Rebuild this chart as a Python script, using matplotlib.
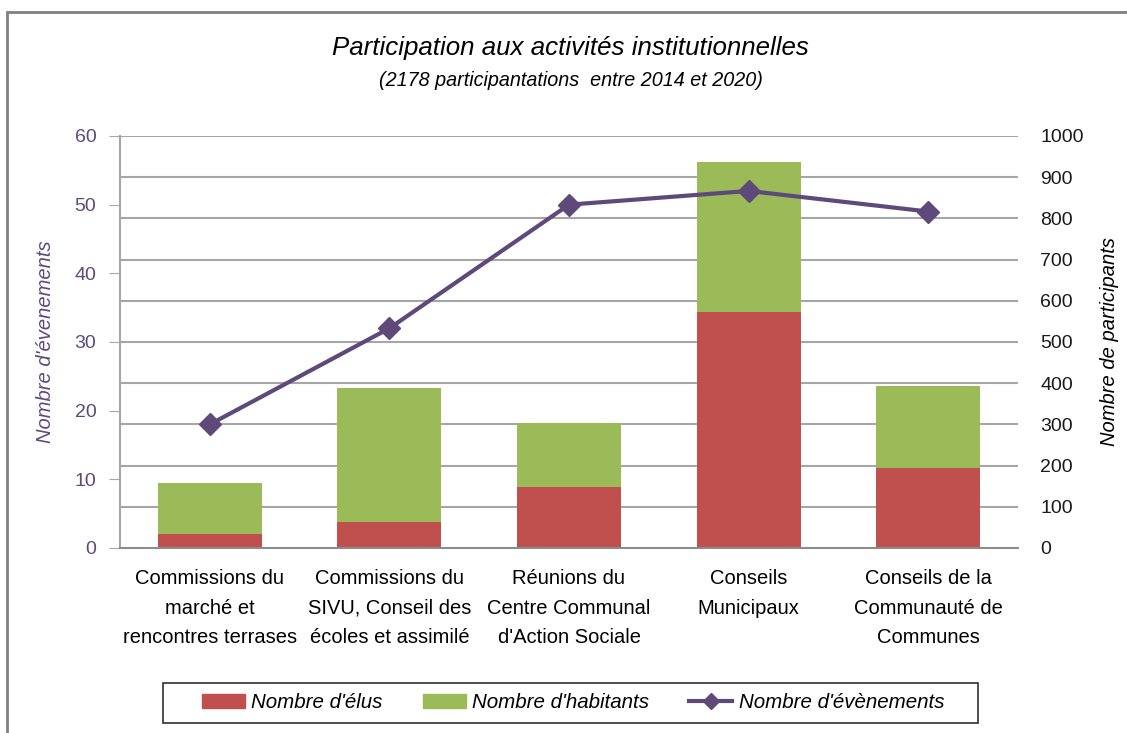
import matplotlib.pyplot as plt
import matplotlib.patches as mpatches
import numpy as np

# données
categories = [
    "Commissions du\nmarché et\nrencontres terrases",
    "Commissions du\nSIVU, Conseil des\nécoles et assimilé",
    "Réunions du\nCentre Communal\nd'Action Sociale",
    "Conseils\nMunicipaux",
    "Conseils de la\nCommunauté de\nCommunes",
]
nb_elus = [35, 62, 149, 573, 195]
nb_habitants = [122, 326, 154, 364, 198]
nb_evenements = [18, 32, 50, 52, 49]

ROUGE = '#C0504D'
VERT = '#9BBB59'
VIOLET = '#5F497A'
GRIS = '#A6A6A6'

plt.rcParams['font.family'] = ['Liberation Sans', 'DejaVu Sans']

fig = plt.figure(figsize=(11.27, 7.33), dpi=100)
ax = fig.add_axes([120 / 1127, 1 - 548 / 733, 898 / 1127, 412 / 733])
ax2 = ax.twinx()

x = np.arange(len(categories))

# barres empilées sur l'axe de droite (participants)
ax2.bar(x, nb_elus, width=0.58, color=ROUGE, zorder=2)
ax2.bar(x, nb_habitants, width=0.58, bottom=nb_elus, color=VERT, zorder=2)
ax2.set_ylim(0, 1000)
ax2.set_yticks(np.arange(0, 1001, 100))
ax2.tick_params(axis='y', length=0, labelsize=14, pad=16, labelcolor='#1a1a1a')
ax2.set_ylabel("Nombre de participants", fontsize=14.5, style='italic', labelpad=12)

# ligne des évènements sur l'axe de gauche, dessinée au-dessus
ax.set_zorder(ax2.get_zorder() + 1)
ax.patch.set_visible(False)
ax.plot(x, nb_evenements, color=VIOLET, lw=3, marker='D', ms=11, zorder=3)
ax.set_ylim(0, 60)
ax.set_yticks(np.arange(0, 61, 10))
ax.set_xlim(-0.5, len(categories) - 0.5)
ax.set_xticks(x)
ax.set_xticklabels(categories, fontsize=14.5, linespacing=1.72, va='top')
ax.tick_params(axis='x', length=0, pad=15)
ax.tick_params(axis='y', length=8, color=GRIS, labelsize=14, labelcolor=VIOLET, pad=9)
ax.set_ylabel("Nombre d'évenements", fontsize=14.5, style='italic', color=VIOLET, labelpad=14)

# grille
for v in np.arange(100, 1001, 100):
    ax2.axhline(v, color=GRIS, lw=1.5, zorder=1)

for a in (ax, ax2):
    for s in ('top', 'right'):
        a.spines[s].set_visible(False)
ax2.spines['left'].set_visible(False)
ax2.spines['bottom'].set_visible(False)
ax.spines['left'].set_color(GRIS)
ax.spines['left'].set_linewidth(1.5)
ax.spines['bottom'].set_color('#8C8C8C')
ax.spines['bottom'].set_linewidth(1.5)

# titre
fig.text(570 / 1127, 1 - 48 / 733, "Participation aux activités institutionnelles",
         ha='center', va='center', fontsize=18.6, style='italic')
fig.text(571 / 1127, 1 - 81 / 733, "(2178 participantations  entre 2014 et 2020)",
         ha='center', va='center', fontsize=14.2, style='italic')

# légende (cadre dessiné à part)
handles = [
    mpatches.Patch(color=ROUGE, label="Nombre d'élus"),
    mpatches.Patch(color=VERT, label="Nombre d'habitants"),
    plt.Line2D([], [], color=VIOLET, lw=3, marker='D', ms=8, label="Nombre d'évènements"),
]
leg = fig.legend(handles=handles, loc='center', bbox_to_anchor=(573 / 1127, 1 - 703 / 733),
                 ncol=3, frameon=False,
                 prop={'size': 14.8, 'style': 'italic'}, handlelength=2.1, handleheight=0.65,
                 columnspacing=1.95, handletextpad=0.3, borderpad=0.3, borderaxespad=0)
fig.patches.append(mpatches.Rectangle((163 / 1127, 1 - 723 / 733), 815 / 1127, 40 / 733,
                                      transform=fig.transFigure, fill=False,
                                      edgecolor='#303030', lw=1.2))

# cadre du graphique
fig.patches.append(mpatches.Rectangle((7 / 1127, -0.1), 1.2, 1 - 12 / 733 + 0.1,
                                      transform=fig.transFigure, fill=False,
                                      edgecolor='#808080', lw=2))

fig.savefig('out.png', dpi=100)
